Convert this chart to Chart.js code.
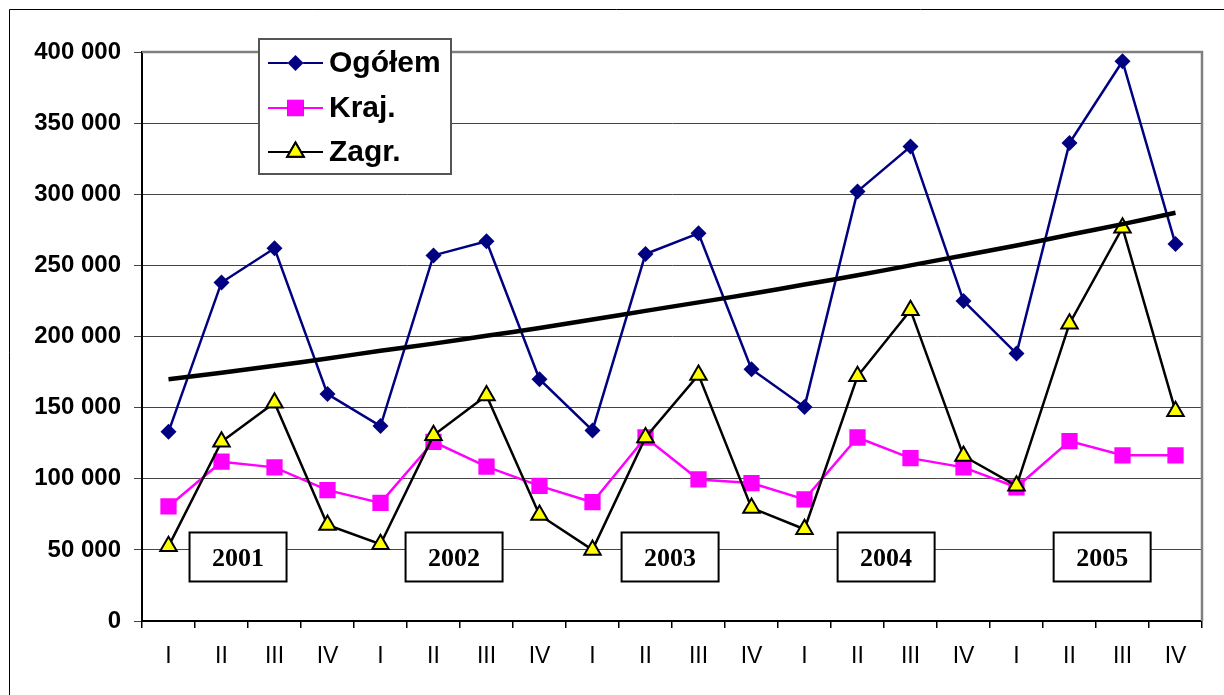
<!DOCTYPE html>
<html>
<head>
<meta charset="utf-8">
<script src="https://cdn.jsdelivr.net/npm/chart.js@4"></script>
<style>
  html, body { margin: 0; padding: 0; background: #fff; }
  #wrap { position: relative; width: 1224px; height: 695px; }
</style>
</head>
<body>
<div id="wrap"><canvas id="chart" width="1224" height="695"></canvas></div>
<script>
const quarters = ['I', 'II', 'III', 'IV', 'I', 'II', 'III', 'IV', 'I', 'II', 'III', 'IV',
  'I', 'II', 'III', 'IV', 'I', 'II', 'III', 'IV'];
const years = ['2001', '2002', '2003', '2004', '2005'];

const ogolem = [133000, 238000, 262000, 159500, 137000, 257000, 267000, 170000, 134000, 258000,
  272500, 177000, 150500, 302000, 333500, 225000, 188000, 336000, 393500, 265000];
const kraj = [80500, 112000, 108000, 92000, 83000, 126000, 108500, 95000, 83500, 129000,
  99500, 97000, 85500, 129000, 114500, 108000, 94000, 126500, 116500, 116500];
const zagr = [52500, 126000, 153500, 67500, 54000, 130500, 158500, 74500, 50000, 129000,
  173000, 79500, 64500, 172000, 218500, 116000, 95000, 209000, 276500, 147500];
const trend = [170000, 174500, 179500, 184500, 190000, 195000, 200500, 206000, 212000, 218000,
  224000, 230000, 236500, 243000, 250000, 257000, 264000, 271500, 279000, 287000];

const yTicks = [0, 50000, 100000, 150000, 200000, 250000, 300000, 350000, 400000];

function fmt(v) {
  return String(v).replace(/\B(?=(\d{3})+(?!\d))/g, ' ');
}

// frame, plot border, year boxes and legend
const decorPlugin = {
  id: 'decor',
  beforeDraw(chart) {
    const ctx = chart.ctx;
    ctx.save();
    ctx.strokeStyle = '#000';
    ctx.lineWidth = 1;
    ctx.beginPath();
    ctx.moveTo(9.5, 695);
    ctx.lineTo(9.5, 9.5);
    ctx.lineTo(1224, 9.5);
    ctx.stroke();
    ctx.restore();
  },
  afterDatasetsDraw(chart) {
    const ctx = chart.ctx;
    const a = chart.chartArea;
    ctx.save();
    // gray top + right border of plot
    ctx.strokeStyle = '#808080';
    ctx.lineWidth = 2.5;
    ctx.beginPath();
    ctx.moveTo(a.left, a.top);
    ctx.lineTo(a.right, a.top);
    ctx.lineTo(a.right, a.bottom);
    ctx.stroke();

    // year boxes
    const yc = chart.scales.y.getPixelForValue(45000);
    years.forEach((yr, i) => {
      const cx = a.left + (a.right - a.left) * (0.0906 + i * 0.2038);
      const w = 97, h = 49;
      ctx.fillStyle = '#fff';
      ctx.fillRect(cx - w / 2, yc - h / 2, w, h);
      ctx.strokeStyle = '#000';
      ctx.lineWidth = 2;
      ctx.strokeRect(cx - w / 2, yc - h / 2, w, h);
      ctx.fillStyle = '#000';
      ctx.font = 'bold 26px "Liberation Serif", "Times New Roman", serif';
      ctx.textAlign = 'center';
      ctx.textBaseline = 'middle';
      ctx.fillText(yr, cx, yc + 2);
    });

    // legend
    const lx = 259, ly = 39, lw = 192, lh = 135;
    ctx.fillStyle = '#fff';
    ctx.fillRect(lx, ly, lw, lh);
    ctx.strokeStyle = '#555';
    ctx.lineWidth = 2;
    ctx.strokeRect(lx, ly, lw, lh);
    const rows = [63, 108, 152];
    [0, 1, 2].forEach((di, k) => {
      const ds = chart.data.datasets[di];
      const y = rows[k];
      ctx.strokeStyle = ds.borderColor;
      ctx.lineWidth = 2;
      ctx.beginPath();
      ctx.moveTo(268, y);
      ctx.lineTo(323, y);
      ctx.stroke();
      Chart.helpers.drawPoint(ctx, {
        pointStyle: ds.pointStyle,
        radius: ds.pointRadius,
        borderWidth: ds.pointBorderWidth,
        rotation: 0
      }, 295.5, y);
      ctx.fillStyle = ds.pointBackgroundColor;
      ctx.strokeStyle = ds.pointBorderColor;
      ctx.lineWidth = ds.pointBorderWidth;
      ctx.fill();
      if (ds.pointBorderWidth > 0) ctx.stroke();
      ctx.fillStyle = '#000';
      ctx.font = 'bold 30px "Liberation Sans", Arial, sans-serif';
      ctx.textAlign = 'left';
      ctx.textBaseline = 'middle';
      ctx.fillText(ds.label, 329, y + 1);
    });
    ctx.restore();
  }
};

new Chart(document.getElementById('chart').getContext('2d'), {
  type: 'line',
  data: {
    labels: quarters,
    datasets: [
      {
        label: 'Ogółem',
        data: ogolem,
        borderColor: '#000080',
        backgroundColor: '#000080',
        borderWidth: 2.5,
        pointStyle: 'rectRot',
        pointRadius: 8,
        pointHoverRadius: 8,
        pointBackgroundColor: '#000080',
        pointBorderColor: '#000080',
        pointBorderWidth: 0,
        tension: 0,
        order: 3
      },
      {
        label: 'Kraj.',
        data: kraj,
        borderColor: '#FF00FF',
        backgroundColor: '#FF00FF',
        borderWidth: 2.5,
        pointStyle: 'rect',
        pointRadius: 11.5,
        pointHoverRadius: 11.5,
        pointBackgroundColor: '#FF00FF',
        pointBorderColor: '#FF00FF',
        pointBorderWidth: 0,
        tension: 0,
        order: 2
      },
      {
        label: 'Zagr.',
        data: zagr,
        borderColor: '#000000',
        backgroundColor: '#FFFF00',
        borderWidth: 2.5,
        pointStyle: 'triangle',
        pointRadius: 9.5,
        pointHoverRadius: 9.5,
        pointBackgroundColor: '#FFFF00',
        pointBorderColor: '#000000',
        pointBorderWidth: 2,
        tension: 0,
        order: 1
      },
      {
        label: 'Trend',
        data: trend,
        borderColor: '#000000',
        borderWidth: 4.5,
        pointRadius: 0,
        tension: 0.4,
        order: 0
      }
    ]
  },
  options: {
    responsive: false,
    animation: false,
    layout: { padding: { left: 0, right: 22, top: 52, bottom: 0 } },
    plugins: {
      legend: { display: false },
      tooltip: { enabled: false }
    },
    scales: {
      x: {
        offset: true,
        grid: {
          drawOnChartArea: false,
          drawTicks: true,
          tickLength: 7,
          color: '#000',
          lineWidth: 1.5,
          offset: true
        },
        border: { display: true, color: '#000', width: 2 },
        ticks: {
          color: '#000',
          padding: 15,
          maxRotation: 0,
          autoSkip: false,
          font: { family: '"Liberation Sans", Arial, sans-serif', size: 23 }
        },
        afterFit(scale) { scale.height = 74; }
      },
      y: {
        min: 0,
        max: 400000,
        afterBuildTicks(scale) { scale.ticks = yTicks.map(v => ({ value: v })); },
        grid: {
          color: '#444',
          lineWidth: 1,
          drawTicks: true,
          tickLength: 8
        },
        border: { display: true, color: '#000', width: 2 },
        ticks: {
          color: '#000',
          padding: 13,
          callback: v => fmt(v),
          font: { family: '"Liberation Sans", Arial, sans-serif', size: 24, weight: 'bold' }
        },
        afterFit(scale) { scale.width = 142; }
      }
    }
  },
  plugins: [decorPlugin]
});
</script>
</body>
</html>
